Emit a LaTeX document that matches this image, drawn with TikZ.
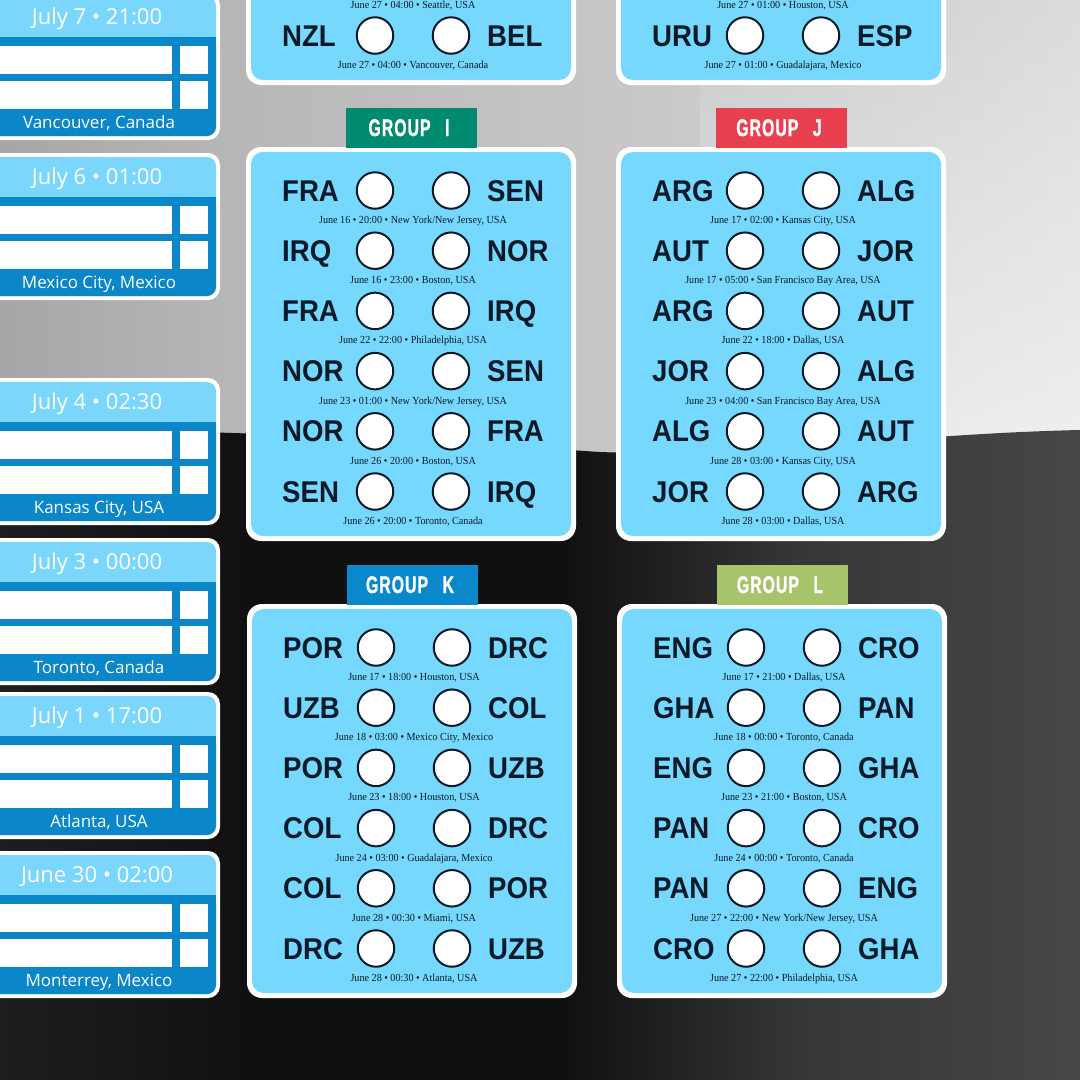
\documentclass[tikz,border=0pt]{standalone}
\usepackage{fontspec}
\usepackage{graphicx}
\usetikzlibrary{fadings}
\setmainfont{Liberation Serif}
\newfontfamily\teamff{Liberation Sans}
\newfontfamily\koff{Open Sans}
\newfontfamily\tabff{Liberation Sans}[BoldFeatures={FakeBold=1.5}]
\definecolor{tbA}{HTML}{A6A6A6}
\definecolor{tbB}{HTML}{B8B8B8}
\definecolor{tbC}{HTML}{C6C6C6}
\definecolor{tbD}{HTML}{DCDCDC}
\definecolor{bbA}{HTML}{1E1E1E}
\definecolor{bbB}{HTML}{101010}
\definecolor{bbC}{HTML}{101010}
\definecolor{bbD}{HTML}{363636}
\definecolor{bbE}{HTML}{474747}
\definecolor{cardblue}{HTML}{76D8FD}
\definecolor{kolight}{HTML}{7AD7FB}
\definecolor{kodark}{HTML}{0A86C9}
\definecolor{navy}{HTML}{0A1A28}
\definecolor{tabI}{HTML}{008A70}
\definecolor{tabJ}{HTML}{E8404F}
\definecolor{tabK}{HTML}{0A88CC}
\definecolor{tabL}{HTML}{A8C46A}
\pgfdeclarehorizontalshading{topbg}{100bp}{color(0bp)=(tbA); color(25bp)=(tbA); color(36.6bp)=(tbB); color(52.8bp)=(tbC); color(75bp)=(tbD); color(100bp)=(tbD)}
\pgfdeclarehorizontalshading{botbg}{100bp}{color(0bp)=(bbA); color(25bp)=(bbA); color(36.6bp)=(bbB); color(51bp)=(bbC); color(62bp)=(bbD); color(75bp)=(bbE); color(100bp)=(bbE)}
\tikzfading[name=fadeup, top color=transparent!100, bottom color=transparent!0]
\tikzset{
  team/.style={font=\teamff\bfseries\fontsize{30}{30}\selectfont, text=navy, inner sep=0pt, anchor=base west},
  ball/.style={circle, draw=navy, line width=2pt, fill=white, minimum size=36.5pt, inner sep=0pt},
  datetxt/.style={font=\fontsize{10.8}{10.8}\selectfont, text=navy, inner sep=0pt, anchor=base},
  tabtxt/.style={font=\tabff\bfseries\fontsize{24}{24}\selectfont, text=white, inner sep=0pt, anchor=base},
  kohead/.style={font=\koff\fontsize{22}{22}\selectfont, text=white, inner sep=0pt, anchor=base},
  kofoot/.style={font=\koff\fontsize{17}{17}\selectfont, text=white, inner sep=0pt, anchor=base},
}
\newcommand\tabword[1]{\scalebox{0.66}[1]{G\kern1.5pt R\kern1.5pt O\kern1.5pt U\kern1.5pt P\kern22pt #1}}
\newcommand\tm[1]{\scalebox{0.92}[1]{#1}}
\newcommand\dt[1]{\scalebox{0.94}[1]{#1}}
% one match row: #1 prefix, #2 row, #3 left team, #4 right team, #5 date
\newcommand\mrow[5]{%
  \pgfmathsetmacro\ry{190.5+60.2*(#2-1)}%
  \node[team] (#1r#2a) at (282,\ry+10.5) {\tm{#3}};
  \node[ball] (#1r#2b) at (375,\ry) {};
  \node[ball] (#1r#2c) at (451,\ry) {};
  \node[team] (#1r#2d) at (487,\ry+10.5) {\tm{#4}};
  \node[datetxt] (#1r#2e) at (413,\ry+33) {\dt{#5}};
}
\newcommand\mdate[3]{%
  \pgfmathsetmacro\ry{190.5+60.2*(#2-1)}%
  \node[datetxt] (#1r#2e) at (413,\ry+33) {\dt{#3}};
}
\newcommand\card{%
  \fill[white, rounded corners=15pt] (246,147) rectangle (576,541);
  \fill[cardblue, rounded corners=12pt] (251,152) rectangle (571,536);
}
% #1 name, #2 colour, #3 letter
\newcommand\grouptab[3]{%
  \fill[#2] (346,108) rectangle (477,148);
  \node[tabtxt] (#1tab) at (409,136) {\tabword{#3}};
}
% knockout box: #1 name, #2 top, #3 header, #4 footer
\newcommand\kobox[4]{%
  \begin{scope}[shift={(0,#2)}]
    \fill[white, rounded corners=12pt] (-60,0) rectangle (220,147);
    \fill[kolight, rounded corners=9pt] (-60,4) rectangle (216,143);
    \fill[kodark, rounded corners=9pt] (-60,44) rectangle (216,143);
    \fill[kodark] (-60,44) rectangle (216,60);
    \fill[white] (-60,53) rectangle (172,81);
    \fill[white] (-60,88) rectangle (172,116);
    \fill[white] (180,53) rectangle (208,81);
    \fill[white] (180,88) rectangle (208,116);
    \node[kohead] (#1h) at (97,31.5) {#3};
    \node[kofoot] (#1f) at (99,135.5) {#4};
  \end{scope}
}
\begin{document}
\begin{tikzpicture}[x=1pt,y=-1pt]
\useasboundingbox (0,0) rectangle (1080,1080);
\clip (0,0) rectangle (1080,1080);
% background
\shade[shading=topbg] (0,0) rectangle (1080,1080);
\fill[white, opacity=0.55, path fading=fadeup] (700,0) rectangle (1080,440);
\shade[shading=botbg] (0,1080) -- (0,430) .. controls (200,428) and (420,440) .. (600,452)
  .. controls (760,458) and (900,434) .. (1080,430) -- (1080,1080) -- cycle;
% knockout column
\kobox{ko1}{-7}{July 7 • 21:00}{Vancouver, Canada}
\kobox{ko2}{153}{July 6 • 01:00}{Mexico City, Mexico}
\kobox{ko3}{378}{July 4 • 02:30}{Kansas City, USA}
\kobox{ko4}{538}{July 3 • 00:00}{Toronto, Canada}
\kobox{ko5}{692}{July 1 • 17:00}{Atlanta, USA}
\kobox{ko6}{851}{June 30 • 02:00}{Monterrey, Mexico}
% top partial cards
\begin{scope}[shift={(0,-456)}]
  \card
  \mdate{gG}{5}{June 27 • 04:00 • Seattle, USA}
  \mrow{gG}{6}{NZL}{BEL}{June 27 • 04:00 • Vancouver, Canada}
\end{scope}
\begin{scope}[shift={(370,-456)}]
  \card
  \mdate{gH}{5}{June 27 • 01:00 • Houston, USA}
  \mrow{gH}{6}{URU}{ESP}{June 27 • 01:00 • Guadalajara, Mexico}
\end{scope}
% group I
\begin{scope}
  \card
  \grouptab{gI}{tabI}{I}
  \mrow{gI}{1}{FRA}{SEN}{June 16 • 20:00 • New York/New Jersey, USA}
  \mrow{gI}{2}{IRQ}{NOR}{June 16 • 23:00 • Boston, USA}
  \mrow{gI}{3}{FRA}{IRQ}{June 22 • 22:00 • Philadelphia, USA}
  \mrow{gI}{4}{NOR}{SEN}{June 23 • 01:00 • New York/New Jersey, USA}
  \mrow{gI}{5}{NOR}{FRA}{June 26 • 20:00 • Boston, USA}
  \mrow{gI}{6}{SEN}{IRQ}{June 26 • 20:00 • Toronto, Canada}
\end{scope}
% group J
\begin{scope}[shift={(370,0)}]
  \card
  \grouptab{gJ}{tabJ}{J}
  \mrow{gJ}{1}{ARG}{ALG}{June 17 • 02:00 • Kansas City, USA}
  \mrow{gJ}{2}{AUT}{JOR}{June 17 • 05:00 • San Francisco Bay Area, USA}
  \mrow{gJ}{3}{ARG}{AUT}{June 22 • 18:00 • Dallas, USA}
  \mrow{gJ}{4}{JOR}{ALG}{June 23 • 04:00 • San Francisco Bay Area, USA}
  \mrow{gJ}{5}{ALG}{AUT}{June 28 • 03:00 • Kansas City, USA}
  \mrow{gJ}{6}{JOR}{ARG}{June 28 • 03:00 • Dallas, USA}
\end{scope}
% group K
\begin{scope}[shift={(1,457)}]
  \card
  \grouptab{gK}{tabK}{K}
  \mrow{gK}{1}{POR}{DRC}{June 17 • 18:00 • Houston, USA}
  \mrow{gK}{2}{UZB}{COL}{June 18 • 03:00 • Mexico City, Mexico}
  \mrow{gK}{3}{POR}{UZB}{June 23 • 18:00 • Houston, USA}
  \mrow{gK}{4}{COL}{DRC}{June 24 • 03:00 • Guadalajara, Mexico}
  \mrow{gK}{5}{COL}{POR}{June 28 • 00:30 • Miami, USA}
  \mrow{gK}{6}{DRC}{UZB}{June 28 • 00:30 • Atlanta, USA}
\end{scope}
% group L
\begin{scope}[shift={(371,457)}]
  \card
  \grouptab{gL}{tabL}{L}
  \mrow{gL}{1}{ENG}{CRO}{June 17 • 21:00 • Dallas, USA}
  \mrow{gL}{2}{GHA}{PAN}{June 18 • 00:00 • Toronto, Canada}
  \mrow{gL}{3}{ENG}{GHA}{June 23 • 21:00 • Boston, USA}
  \mrow{gL}{4}{PAN}{CRO}{June 24 • 00:00 • Toronto, Canada}
  \mrow{gL}{5}{PAN}{ENG}{June 27 • 22:00 • New York/New Jersey, USA}
  \mrow{gL}{6}{CRO}{GHA}{June 27 • 22:00 • Philadelphia, USA}
\end{scope}
\end{tikzpicture}
\end{document}
